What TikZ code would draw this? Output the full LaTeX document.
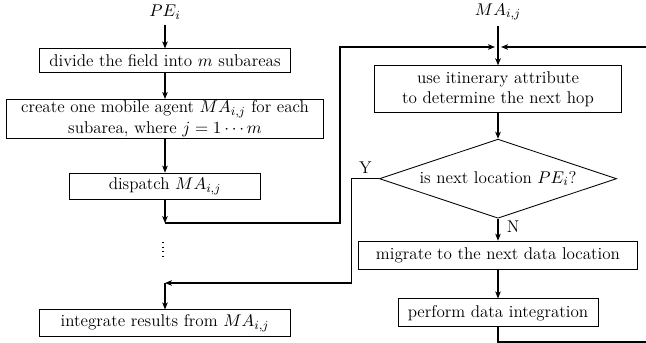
\documentclass[tikz,border=0pt]{standalone}
\usetikzlibrary{arrows.meta,positioning,shapes.geometric}

\begin{document}
\begin{tikzpicture}[
  x=0.645pt, y=-0.645pt,
  every node/.style={font=\fontsize{11}{13}\selectfont},
  box/.style={rectangle, draw, line width=0.55pt, align=center, inner xsep=1pt, inner ysep=1pt},
  decision/.style={diamond, draw, line width=0.55pt, aspect=3, inner sep=0pt, minimum width=153pt, minimum height=51pt},
  flow/.style={-{Stealth[length=4.5pt, width=3.6pt, inset=1.2pt]}, line width=0.65pt},
  link/.style={line width=0.65pt},
]
\useasboundingbox (0,0) rectangle (646,343);

% Dispatching side
\node (pe) at (165,12) {$PE_i$};
\node[box, minimum width=162pt, minimum height=15pt] (divide) at (165,60.5) {divide the field into $m$ subareas};
\node[box, minimum width=204pt, minimum height=25pt, below=17pt of divide] (create) {create one mobile agent $MA_{i,j}$ for each\\subarea, where $j = 1\cdots m$};
\node[box, minimum width=123pt, minimum height=17pt, below=22pt of create] (dispatch) {dispatch $MA_{i,j}$};
\node[box, minimum width=162pt, minimum height=17pt] (integrate) at (165,323) {integrate results from $MA_{i,j}$};

% Agent side
\node (ma) at (498,12) {$MA_{i,j}$};
\coordinate (join) at (498,47);
\node[box, minimum width=159pt, minimum height=30pt] (itin) at (498,89) {use itinerary attribute\\to determine the next hop};
\node[decision, below=16.8pt of itin] (test) {is next location $PE_i$?};
\node[box, minimum width=180pt, minimum height=18pt, below=14.2pt of test] (migrate) {migrate to the next data location};
\node[box, minimum width=129pt, minimum height=18pt, below=18.7pt of migrate] (perform) {perform data integration};

% Turning points
\coordinate (turn) at (165,223);
\coordinate (bend) at (340,47);
\coordinate (yturn) at ([xshift=-17.4pt]test.west);
\coordinate (merge) at (165,283);
\coordinate (edgetop) at (646,47);
\coordinate (edgebot) at (646,342);
\coordinate (dotstop) at (163,242);
\coordinate (dotsbot) at (163,258);

% Connectors
\draw[flow] (pe) -- (divide);
\draw[flow] (divide) -- (create);
\draw[flow] (create) -- (dispatch);
\draw[flow] (dispatch) -- (turn);
\draw[flow, shorten >=2pt] (turn) -| (bend) -- (join);
\draw[flow, shorten >=2pt] (edgetop) -- (join);
\draw[flow] (ma) -- (itin);
\draw[flow] (itin) -- (test);
\draw[flow] (test) -- node[right, pos=0.35, xshift=2pt] {N} (migrate);
\draw[flow] (migrate) -- (perform);
\draw[link] (perform) |- (edgebot);
\draw[flow] (test.west) -- node[above] {Y} (yturn) |- (merge);
\draw[flow] (merge) -- (integrate);

% Omitted agents
\draw[line width=0.7pt, dash pattern=on 0.7pt off 2.3pt] (dotstop) -- (dotsbot);

\end{tikzpicture}
\end{document}
